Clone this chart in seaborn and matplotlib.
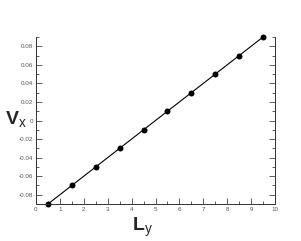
import matplotlib
matplotlib.use('Agg')
import matplotlib.pyplot as plt
import seaborn as sns
import numpy as np
import pandas as pd
from matplotlib.ticker import MultipleLocator

# data
ly = [0.5, 1.5, 2.5, 3.5, 4.5, 5.5, 6.5, 7.5, 8.5, 9.5]
vx = [-0.09, -0.07, -0.05, -0.03, -0.01, 0.01, 0.03, 0.05, 0.07, 0.09]
x_ticks = [0, 1, 2, 3, 4, 5, 6, 7, 8, 9, 10]
y_ticks = [-0.08, -0.06, -0.04, -0.02, 0, 0.02, 0.04, 0.06, 0.08]

sns.set_style('white')
plt.rcParams['font.family'] = ['Liberation Sans', 'DejaVu Sans']
plt.rcParams['mathtext.fontset'] = 'custom'
plt.rcParams['mathtext.rm'] = 'Liberation Sans'
plt.rcParams['mathtext.bf'] = 'Liberation Sans:bold'

df = pd.DataFrame({'Ly': ly, 'Vx': vx})

fig = plt.figure(figsize=(3.01, 2.41), dpi=100)
ax = fig.add_axes([36 / 301, 1 - 204 / 241, 239 / 301, 167 / 241])

sns.lineplot(data=df, x='Ly', y='Vx', ax=ax, color='black', linewidth=0.8,
             marker='o', markersize=4.3, markeredgewidth=0, clip_on=False)

ax.set_xlim(0, 10)
ax.set_ylim(-0.09, 0.09)
ax.set_xticks(x_ticks)
ax.set_yticks(y_ticks)
ax.set_xticklabels([str(t) for t in x_ticks])
ax.set_yticklabels(['%g' % t for t in y_ticks])
ax.xaxis.set_minor_locator(MultipleLocator(0.5))
ax.yaxis.set_minor_locator(MultipleLocator(0.01))

ax.tick_params(which='both', direction='in', color='#444444', width=0.6,
               labelsize=4.5, labelcolor='#555555', right=True, top=False,
               bottom=True, left=True, pad=2)
ax.tick_params(which='major', length=4)
ax.tick_params(which='minor', length=2.5)

for side in ['left', 'bottom', 'right']:
    ax.spines[side].set_color('#333333')
    ax.spines[side].set_linewidth(0.7)
ax.spines['top'].set_visible(False)

ax.set_xlabel('')
ax.set_ylabel('')
fig.text(0.015, 1 - 120 / 241, r'$\mathbf{V}_{\mathrm{x}}$', fontsize=14,
         va='center', ha='left')
fig.text(132 / 301, 1 - 227 / 241, r'$\mathbf{L}_{\mathrm{y}}$', fontsize=14,
         va='center', ha='left')

fig.savefig('out.png', dpi=100)
